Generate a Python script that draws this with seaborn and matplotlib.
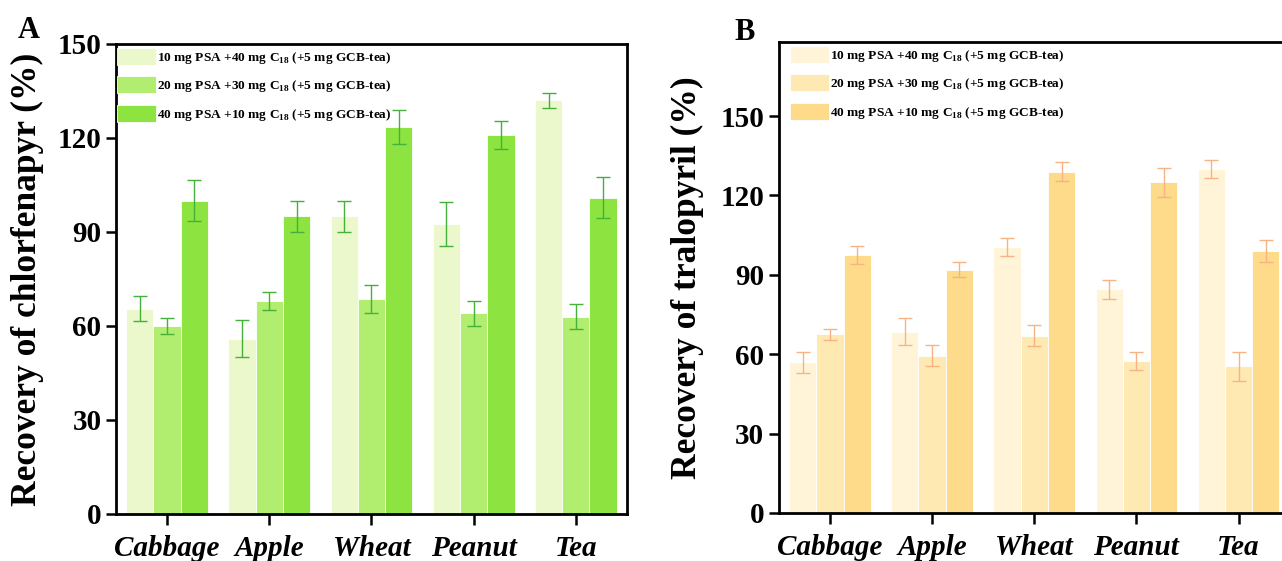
import numpy as np
import pandas as pd
import matplotlib
matplotlib.use("Agg")
import matplotlib.pyplot as plt
import seaborn as sns

# ---- data ----
matrices = ["Cabbage", "Apple", "Wheat", "Peanut", "Tea"]
methods = [
    r"10 mg PSA +40 mg C$_{\mathbf{18}}$ (+5 mg GCB-tea)",
    r"20 mg PSA +30 mg C$_{\mathbf{18}}$ (+5 mg GCB-tea)",
    r"40 mg PSA +10 mg C$_{\mathbf{18}}$ (+5 mg GCB-tea)",
]

# chlorfenapyr recovery (%), one list per method, in matrix order
chl_10 = [65.5, 56.0, 95.0, 92.5, 132.0]
chl_20 = [60.0, 68.0, 68.5, 64.0, 63.0]
chl_40 = [100.0, 95.0, 123.5, 121.0, 101.0]
chl_err_10 = [4.0, 6.0, 5.0, 7.0, 2.5]
chl_err_20 = [2.5, 3.0, 4.5, 4.0, 4.0]
chl_err_40 = [6.5, 5.0, 5.5, 4.5, 6.5]

# tralopyril recovery (%)
tra_10 = [57.0, 68.5, 100.5, 84.5, 130.0]
tra_20 = [67.5, 59.5, 67.0, 57.5, 55.5]
tra_40 = [97.5, 92.0, 129.0, 125.0, 99.0]
tra_err_10 = [4.0, 5.0, 3.5, 3.5, 3.5]
tra_err_20 = [2.0, 4.0, 4.0, 3.5, 5.5]
tra_err_40 = [3.5, 3.0, 3.5, 5.5, 4.0]

green = ["#EAF8CB", "#B1EE6F", "#8DE33F"]
orange = ["#FFF4D8", "#FEE9B2", "#FDDB8A"]

sns.set_style("ticks")
plt.rcParams["font.family"] = ["Liberation Serif", "DejaVu Serif"]
plt.rcParams["font.weight"] = "bold"
plt.rcParams["mathtext.fontset"] = "custom"
plt.rcParams["mathtext.rm"] = "Liberation Serif:bold"
plt.rcParams["mathtext.bf"] = "Liberation Serif:bold"
for k in ["text.color", "axes.labelcolor", "xtick.color", "ytick.color", "axes.edgecolor"]:
    plt.rcParams[k] = "black"


def long_frame(vals, errs):
    rows = []
    for m, v, e in zip(methods, vals, errs):
        for mat, y, s in zip(matrices, v, e):
            rows.append({"matrix": mat, "method": m, "value": y, "err": s})
    return pd.DataFrame(rows)


def panel(ax, df, colors, ecolor, ylabel, ymax, leg_x, ypad):
    sns.barplot(data=df, x="matrix", y="value", hue="method", order=matrices,
                hue_order=methods, palette=colors, errorbar=None, width=0.8,
                saturation=1, edgecolor="white", linewidth=0.6, ax=ax)
    for cont, m in zip(ax.containers, methods):
        sub = df[df["method"] == m].set_index("matrix").loc[matrices]
        xs = [b.get_x() + b.get_width() / 2 for b in cont]
        hs = [b.get_height() for b in cont]
        ax.errorbar(xs, hs, yerr=sub["err"].values, fmt="none", ecolor=ecolor,
                    elinewidth=1.0, capsize=5, capthick=1.0, zorder=5)
    ax.set_xlim(-0.5, 4.5)
    ax.set_ylim(0, ymax)
    ax.set_yticks([0, 30, 60, 90, 120, 150])
    ax.set_xlabel("")
    ax.set_ylabel(ylabel, fontsize=25.5, fontweight="bold", labelpad=ypad)
    ax.tick_params(axis="y", labelsize=21, width=1.8, length=7, direction="out")
    ax.tick_params(axis="x", labelsize=21, width=1.8, length=8, direction="out", pad=7)
    for lab in ax.get_xticklabels():
        lab.set_fontstyle("italic")
        lab.set_fontweight("bold")
    for lab in ax.get_yticklabels():
        lab.set_fontweight("bold")
    for sp in ax.spines.values():
        sp.set_linewidth(2.0)
        sp.set_visible(True)
    leg = ax.legend(loc="upper left", bbox_to_anchor=(leg_x, 0.995), frameon=False,
                    prop={"family": "Liberation Serif", "weight": "bold", "size": 9.6},
                    handlelength=2.9, handleheight=1.6, labelspacing=0.8,
                    handletextpad=0.1, borderaxespad=0.0, borderpad=0.1)
    for h in leg.legend_handles:
        h.set_edgecolor("white")


fig = plt.figure(figsize=(12.82, 5.61), dpi=100)
axA = fig.add_axes([0.0905, 0.0838, 0.3985, 0.8378])
axB = fig.add_axes([0.6075, 0.0856, 0.3985, 0.8396])

panel(axA, long_frame([chl_10, chl_20, chl_40], [chl_err_10, chl_err_20, chl_err_40]),
      green, "#45B13A", "Recovery of chlorfenapyr (%)", 150, 0.0, 10)
panel(axB, long_frame([tra_10, tra_20, tra_40], [tra_err_10, tra_err_20, tra_err_40]),
      orange, "#F7B384", "Recovery of tralopyril (%)", 178, 0.02, 12)

fig.text(0.014, 0.933, "A", fontsize=22, fontweight="bold", ha="left", va="baseline")
fig.text(0.5725, 0.929, "B", fontsize=22, fontweight="bold", ha="left", va="baseline")

fig.savefig("out.png", dpi=100)
